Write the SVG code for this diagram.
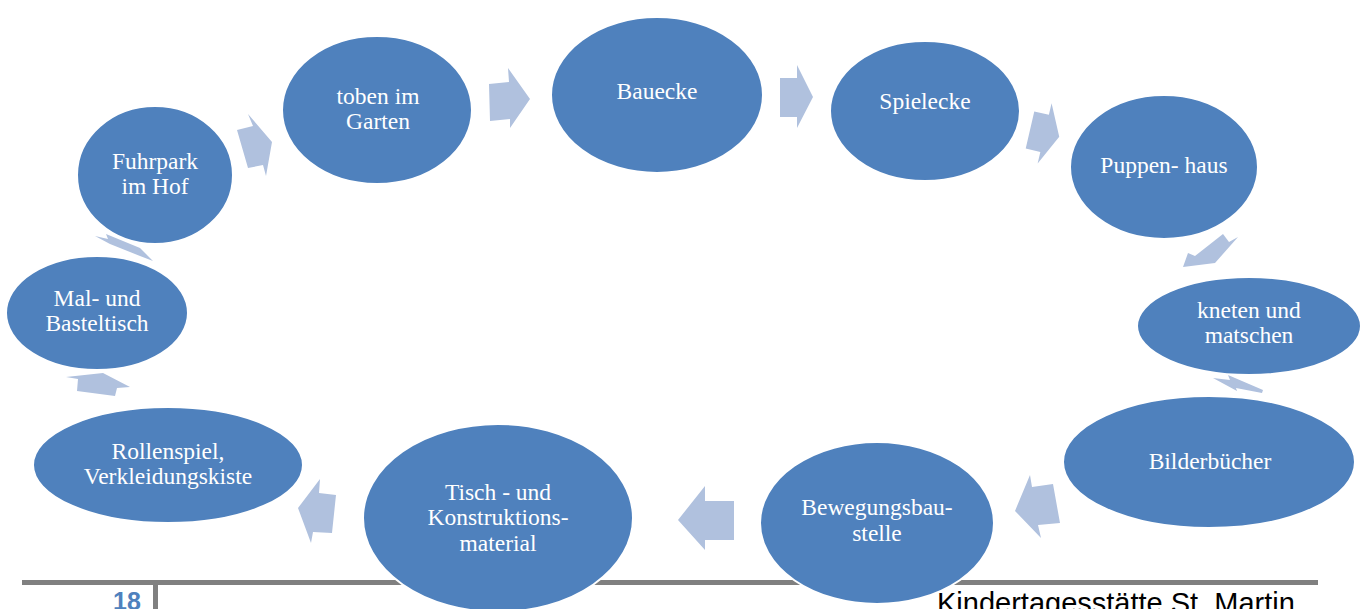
<svg xmlns="http://www.w3.org/2000/svg" width="1365" height="609" viewBox="0 0 1365 609">
<style>
.n{fill:#4F81BD;stroke:#FFFFFF;stroke-width:2}
.t{font-family:"Liberation Serif","Times New Roman",serif;font-size:23.5px;fill:#FFFFFF;text-anchor:middle}
.a{fill:#B0C1DE}
</style>
<rect width="1365" height="609" fill="#FFFFFF"/>
<g id="footer">
<rect x="22" y="580" width="1296" height="5" fill="#808080"/>
<rect x="153" y="585" width="5" height="24" fill="#808080"/>
<text x="127" y="610" font-family="Liberation Sans,Arial,sans-serif" font-size="25" font-weight="bold" fill="#4F81BD" text-anchor="middle">18</text>
<text x="937" y="613" font-family="Liberation Sans,Arial,sans-serif" font-size="29" fill="#000000">Kindertagesstätte St. Martin</text>
</g>
<g id="connectors">
<polygon class="a" points="237,130 253,126 248,114 272,142 266,176 263,165 248,168"/>
<polygon class="a" points="489,84 509,82 508,68 530,99 510,128 510,119 490,121"/>
<polygon class="a" points="780,78 797,78 797,65 813,97 797,128 797,117 780,117"/>
<polygon class="a" points="0,-19 15,-19 15,-31 30,0 15,31 15,19 0,19" transform="translate(1030,130) rotate(13)"/>
<polygon class="a" points="1223,234 1229,242 1238,237 1215,263 1183,267 1188,253 1195,256"/>
<polygon class="a" points="1213,378 1230,380 1228,375 1263,390 1262,393 1236,388 1237,391"/>
<polygon class="a" points="1015,511 1030,475 1032,487 1053,484 1060,523 1038,525 1041,538"/>
<polygon class="a" points="678,520 705,486 705,501 734,501 734,540 705,540 705,550"/>
<polygon class="a" points="298,508 320,479 319,493 336,495 332,533 313,532 311,543"/>
<polygon class="a" points="66,377 103,373 130,387 117,388 115,396 77,391 78,379"/>
<polygon class="a" points="95,236 108,239 106,234 140,248 153,261 140,256 110,244"/>
</g>
<g id="node-toben"><ellipse class="n" cx="377" cy="110" rx="95" ry="74"/><text class="t" x="378" y="104">toben im</text><text class="t" x="378" y="129">Garten</text></g>
<g id="node-bauecke"><ellipse class="n" cx="657" cy="95" rx="106" ry="78"/><text class="t" x="657" y="99">Bauecke</text></g>
<g id="node-spielecke"><ellipse class="n" cx="925" cy="111" rx="95" ry="70"/><text class="t" x="925" y="109">Spielecke</text></g>
<g id="node-puppenhaus"><ellipse class="n" cx="1164" cy="167" rx="94" ry="72"/><text class="t" x="1164" y="173">Puppen- haus</text></g>
<g id="node-kneten"><ellipse class="n" cx="1249" cy="326" rx="112" ry="49"/><text class="t" x="1249" y="318">kneten und</text><text class="t" x="1249" y="343">matschen</text></g>
<g id="node-bilderbuecher"><ellipse class="n" cx="1209" cy="462" rx="146" ry="66"/><text class="t" x="1210" y="469">Bilderbücher</text></g>
<g id="node-bewegung"><ellipse class="n" cx="877" cy="523" rx="117" ry="81"/><text class="t" x="877" y="515">Bewegungsbau-</text><text class="t" x="877" y="541">stelle</text></g>
<g id="node-tisch"><ellipse class="n" cx="498" cy="518" rx="135" ry="94"/><text class="t" x="498" y="500">Tisch - und</text><text class="t" x="498" y="525">Konstruktions-</text><text class="t" x="498" y="551">material</text></g>
<g id="node-rollenspiel"><ellipse class="n" cx="168" cy="465" rx="135" ry="58"/><text class="t" x="168" y="459">Rollenspiel,</text><text class="t" x="168" y="484">Verkleidungskiste</text></g>
<g id="node-mal"><ellipse class="n" cx="97" cy="313" rx="91" ry="57"/><text class="t" x="97" y="306">Mal- und</text><text class="t" x="97" y="331">Basteltisch</text></g>
<g id="node-fuhrpark"><ellipse class="n" cx="155" cy="175" rx="78" ry="69"/><text class="t" x="155" y="169">Fuhrpark</text><text class="t" x="155" y="194">im Hof</text></g>
</svg>
